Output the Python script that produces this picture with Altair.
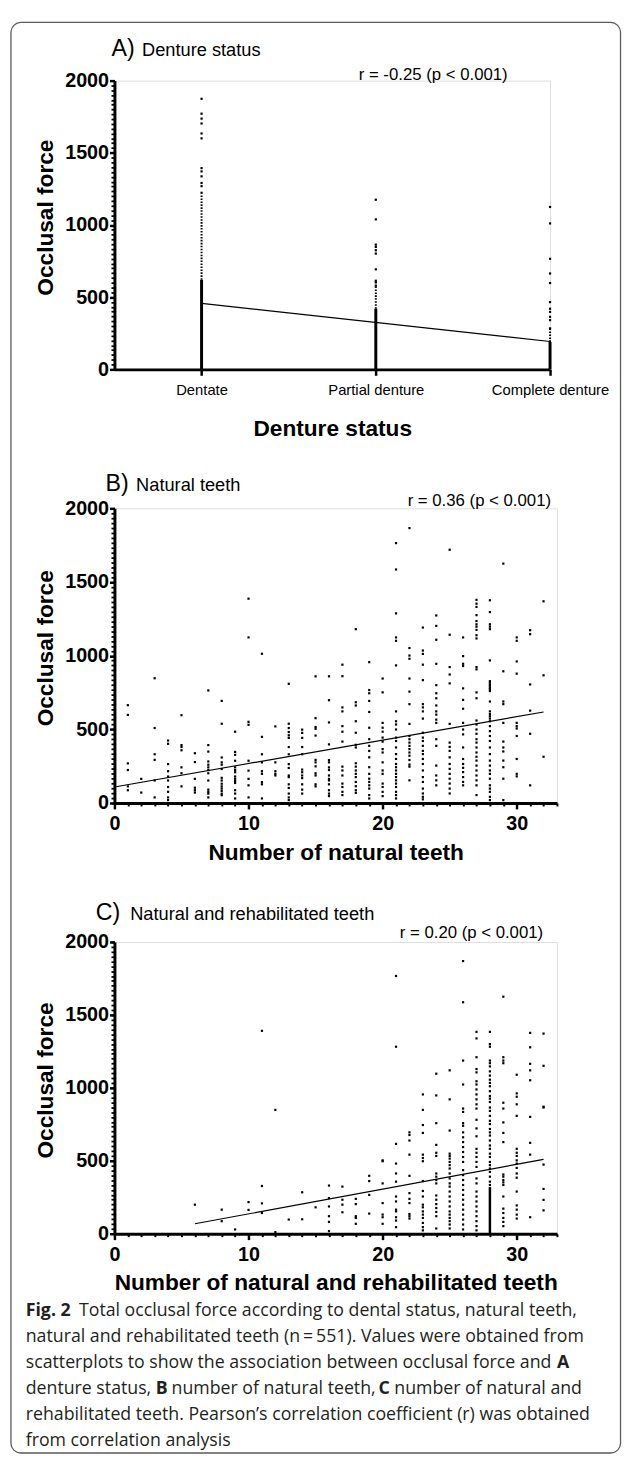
import altair as alt
import pandas as pd

FONT = "Liberation Sans"
CAP_FONT = "Open Sans"

# ---------------- Panel A: denture status ----------------
a_categories = ["Dentate", "Partial denture", "Complete denture"]
a_scatter_dentate = [1874, 1771, 1737, 1703, 1634, 1600, 1394, 1371, 1337, 1291, 1269, 1223]
a_scatter_partial = [1175, 1039, 864, 848, 825, 802, 693, 614, 602, 580]
a_scatter_complete = [1125, 1011, 766, 664, 598, 466, 420, 398, 364, 341, 284]
# stretches where the points overlap into a continuous bar
a_solid_lo = [0, 0, 0]
a_solid_hi = [620, 420, 190]
a_dotted_lo = [620, 420, 190]
a_dotted_hi = [1215, 580, 290]
a_fit_x = [0, 2]
a_fit_y = [457, 193]
a_r_text = "r = -0.25 (p < 0.001)"

# ---------------- Panel B: natural teeth ----------------
b_teeth = [1, 2, 3, 4, 5, 6, 7, 8, 9, 10, 11, 12, 13, 14, 15, 16,
           17, 18, 19, 20, 21, 22, 23, 24, 25, 26, 27, 28, 29, 30, 31, 32]
b_force = [
    [664, 598, 269, 224, 113, 87],
    [164, 71],
    [847, 509, 331, 293, 153, 38],
    [424, 402, 264, 216, 180, 153, 109, 76, 38, 20],
    [596, 393, 380, 358, 242, 202, 113],
    [338, 278, 164, 104, 87, 71],
    [764, 393, 349, 282, 260, 242, 224, 202, 153, 91, 76, 64, 38],
    [693, 538, 309, 276, 260, 231, 171, 153, 131, 113, 98, 82, 64, 53],
    [484, 347, 327, 287, 242, 224, 209, 180, 164, 149, 136, 87, 64, 31],
    [1387, 1124, 551, 531, 287, 220, 164, 120, 38],
    [1013, 449, 331, 276, 216, 198, 142, 127, 31],
    [520, 276, 216, 198, 187],
    [809, 538, 509, 482, 460, 442, 380, 331, 264, 238, 187, 176, 127, 102, 64, 38, 20],
    [498, 476, 442, 380, 331, 227, 209, 187, 169, 127, 91, 64],
    [860, 576, 516, 504, 458, 293, 276, 249, 202, 187, 127, 113],
    [860, 698, 547, 398, 291, 276, 242, 224, 187, 164, 153, 127, 87, 64, 47],
    [939, 861, 649, 622, 522, 484, 417, 247, 221, 187, 132, 109, 76, 54],
    [1180, 684, 662, 555, 477, 395, 377, 270, 247, 221, 198, 176, 143, 114, 87, 69],
    [956, 767, 745, 693, 618, 511, 433, 388, 354, 310, 243, 198, 165, 143, 120, 98, 54, 31],
    [845, 751, 544, 511, 484, 444, 417, 366, 343, 276, 221, 198, 132, 109, 76, 47],
    [1764, 1585, 1287, 1124, 1101, 934, 622, 555, 533, 499, 444, 421, 377, 332, 299, 265,
     243, 221, 198, 176, 154, 132, 109, 76, 54, 31],
    [1866, 1052, 1001, 979, 845, 756, 671, 537, 455, 433, 410, 388, 366, 343, 321, 292, 261, 247, 154],
    [1191, 1035, 1012, 939, 834, 671, 649, 622, 573, 477, 444, 421, 388, 354, 332, 299, 265,
     221, 176, 143, 98, 65, 42, 25],
    [1273, 1202, 1108, 945, 800, 745, 711, 662, 622, 600, 566, 544, 433, 388, 254, 187, 154, 120],
    [1719, 1142, 923, 872, 812, 537, 410, 381, 354, 310, 265, 232, 198, 165, 132, 98, 65],
    [1124, 997, 945, 930, 778, 700, 640, 544, 499, 466, 377, 299, 265, 239, 210, 176, 143, 120],
    [1379, 1353, 1331, 1275, 1235, 1213, 1197, 1175, 1139, 1117, 923, 907, 751, 711, 560, 533,
     499, 470, 433, 410, 377, 343, 314, 288, 254, 221, 187, 154, 120, 54],
    [1376, 1296, 1213, 1197, 1180, 968, 827, 818, 805, 796, 783, 774, 760, 689, 622, 604, 589,
     573, 555, 522, 488, 455, 421, 377, 332, 288, 254, 221, 198, 165, 120, 98, 76, 42, 20],
    [1625, 894, 689, 671, 544, 417, 377, 350, 288, 243, 165, 20],
    [1124, 1101, 961, 878, 544, 522, 506, 455, 299, 198, 181],
    [1173, 1146, 805, 627, 470, 120],
    [1369, 867, 314],
]
b_fit_x = [0, 32]
b_fit_y = [109, 618]
b_r_text = "r = 0.36 (p < 0.001)"

# ---------------- Panel C: natural and rehabilitated teeth ----------------
c_teeth = [6, 8, 9, 10, 11, 12, 13, 14, 15, 16, 17, 18, 19, 20, 21, 22, 23, 24, 25, 26,
           27, 28, 29, 30, 31, 32]
c_force = [
    [199],
    [165, 86],
    [29],
    [217, 163],
    [1391, 327, 208, 142],
    [849, 11],
    [97],
    [284, 99],
    [181],
    [330, 244, 187, 120, 81, 18],
    [323, 233, 199, 147],
    [239, 203, 120, 108, 68],
    [397, 361, 266, 138],
    [503, 497, 345, 210, 131, 113, 68],
    [1767, 1282, 616, 481, 413, 357, 255, 221, 165, 153, 113, 90, 45],
    [695, 677, 639, 542, 397, 278, 239, 210, 135, 120, 104],
    [955, 849, 745, 691, 542, 519, 497, 361, 293, 255, 199, 181, 153, 131, 108, 74, 45, 23],
    [1097, 948, 758, 609, 555, 533, 413, 391, 368, 345, 262, 233, 203, 176, 149, 120, 36],
    [1120, 921, 707, 549, 533, 515, 492, 470, 447, 413, 379, 345, 323, 289, 255, 221, 187,
     153, 131, 108, 86, 63, 36],
    [1869, 1587, 1187, 1023, 858, 835, 758, 740, 695, 661, 628, 594, 560, 526, 492, 436, 402,
     368, 334, 300, 266, 233, 199, 165, 131, 97, 63, 29],
    [1384, 1339, 1210, 1129, 1106, 1045, 1023, 989, 955, 921, 887, 858, 781, 722, 668, 582,
     555, 526, 492, 458, 379, 345, 289, 255, 221, 187, 153, 120, 86, 52, 23],
    [1384, 1300, 1282, 1187, 1169, 1147, 1113, 1084, 1056, 1034, 1011, 977, 944, 926, 903, 865,
     842, 808, 774, 752, 718, 695, 673, 639, 605, 582, 549, 526, 492, 470, 447, 424, 391, 357, 334],
    [1625, 1210, 1187, 1169, 898, 858, 763, 691, 628, 406, 391, 368, 352, 334, 255, 172, 142,
     108, 81, 52],
    [1090, 962, 939, 887, 808, 582, 555, 533, 503, 481, 451, 413, 384, 289, 194, 165, 131, 104],
    [1377, 1278, 1165, 1120, 1052, 801, 623, 542, 113],
    [1372, 1151, 871, 865, 474, 307, 232, 160],
]
# column of 28 teeth: points merge into a solid bar near the bottom
c_dense_teeth = [28]
c_dense_lo = [0]
c_dense_hi = [320]
c_fit_x = [6, 32]
c_fit_y = [68, 510]
c_r_text = "r = 0.20 (p < 0.001)"

# ---------------- caption ----------------
caption_lines = [
    [("Fig. 2", True), ("Total occlusal force according to dental status, natural teeth,", False)],
    [("natural and rehabilitated teeth (n\u2009=\u2009551). Values were obtained from", False)],
    [("scatterplots to show the association between occlusal force and", False), ("A", True)],
    [("denture status,", False), ("B", True), ("number of natural teeth,", False), ("C", True),
     ("number of natural and", False)],
    [("rehabilitated teeth. Pearson\u2019s correlation coefficient (r) was obtained", False)],
    [("from correlation analysis", False)],
]
# left edge of each caption piece (px, relative to panel C plot origin)
caption_x = [[-90, -36], [-90], [-90, 449], [-90, 42, 58, 268, 284], [-90], [-90]]
caption_y = [374, 400.5, 427, 453.5, 480, 506.5]
CAP_SIZE = 18

# ---------------- helpers ----------------
Y_SCALE = alt.Scale(domain=[0, 2000], nice=False, zero=False)
MINOR_Y = [i * 100 / 3 for i in range(61)]
ONE = alt.Data(values=[{"k": 1}])


def y_main_axis(h):
    return alt.Axis(values=[0, 500, 1000, 1500, 2000], format="d", orient="left",
                    labelFlush=False, labelPadding=1, labelFont=FONT, labelFontSize=20,
                    labelFontWeight="bold", labelColor="black", tickSize=5, tickWidth=2.5,
                    tickColor="black", domainColor="black", domainWidth=3, grid=False,
                    title="Occlusal force", titleFont=FONT, titleFontSize=23,
                    titleFontWeight="bold", titleColor="black", titleX=-58, titleY=h / 2 - 8,
                    titleAngle=270, titleAlign="center", titleBaseline="bottom")


def y_minor_axis():
    return alt.Axis(values=MINOR_Y, orient="left", labels=False, domain=False, grid=False,
                    tickSize=3.5, tickWidth=1.8, tickColor="black", title="")


def x_num_axis(title, title_y):
    return alt.Axis(values=[0, 10, 20, 30], orient="bottom", format="d", labelFlush=False,
                    labelPadding=5, labelFont=FONT, labelFontSize=20, labelFontWeight="bold",
                    labelColor="black", tickSize=6, tickWidth=2.5, tickColor="black",
                    domainColor="black", domainWidth=3, grid=False, title=title,
                    titleFont=FONT, titleFontSize=23, titleFontWeight="bold",
                    titleColor="black", titleY=title_y, titleBaseline="middle")


def x_minor_axis():
    return alt.Axis(values=list(range(34)), orient="bottom", labels=False, domain=False,
                    grid=False, tickSize=3, tickWidth=2, tickColor="black", title="")


def text_layer(txt, x, y, size, align="left", weight="normal", font=FONT, color="black",
               baseline="alphabetic"):
    return alt.Chart(ONE).mark_text(text=txt, align=align, baseline=baseline, font=font,
                                    fontSize=size, fontWeight=weight, color=color).encode(
        x=alt.value(x), y=alt.value(y))


def title_layers(letter, label, x_letter, x_label, y):
    return [text_layer(letter, x_letter, y, 23.5), text_layer(label, x_label, y, 18.5)]


# ---------------- Panel A chart ----------------
A_W, A_H = 442, 293
a_x_scale = alt.Scale(domain=[-0.5, 2], nice=False, zero=False)
a_label_expr = "datum.value == 0 ? '%s' : datum.value == 1 ? '%s' : '%s'" % tuple(a_categories)
a_x_axis = alt.Axis(values=[0, 1, 2], labelExpr=a_label_expr, orient="bottom", labelFlush=False,
                    labelPadding=7, labelFont=FONT, labelFontSize=15, labelColor="black",
                    tickSize=6, tickWidth=2.5, tickColor="black", domainColor="black",
                    domainWidth=3, grid=False, title="Denture status", titleFont=FONT,
                    titleFontSize=23, titleFontWeight="bold", titleColor="black", titleY=60,
                    titleBaseline="middle")

a_points = pd.DataFrame({
    "x": [0] * len(a_scatter_dentate) + [1] * len(a_scatter_partial) + [2] * len(a_scatter_complete),
    "y": a_scatter_dentate + a_scatter_partial + a_scatter_complete,
})
a_seg_solid = pd.DataFrame({"x": [0, 1, 2], "lo": a_solid_lo, "hi": a_solid_hi})
a_seg_dot = pd.DataFrame({"x": [0, 1, 2], "lo": a_dotted_lo, "hi": a_dotted_hi})
a_fit = pd.DataFrame({"x": a_fit_x, "y": a_fit_y})

a_pts = alt.Chart(a_points).mark_square(size=5, color="black", opacity=1).encode(
    x=alt.X("x:Q", scale=a_x_scale, axis=a_x_axis),
    y=alt.Y("y:Q", scale=Y_SCALE, axis=y_main_axis(A_H)))
a_line = alt.Chart(a_fit).mark_line(color="black", strokeWidth=1.2).encode(
    x=alt.X("x:Q", scale=a_x_scale, axis=None),
    y=alt.Y("y:Q", scale=Y_SCALE, axis=y_minor_axis()))
a_solid = alt.Chart(a_seg_solid).mark_rule(color="black", strokeWidth=3).encode(
    x=alt.X("x:Q", scale=a_x_scale, axis=None),
    y=alt.Y("lo:Q", scale=Y_SCALE, axis=None), y2="hi:Q")
a_dot = alt.Chart(a_seg_dot).mark_rule(color="black", strokeWidth=2, strokeDash=[1.6, 1.4]).encode(
    x=alt.X("x:Q", scale=a_x_scale, axis=None),
    y=alt.Y("lo:Q", scale=Y_SCALE, axis=None), y2="hi:Q")
frame = alt.Chart(ONE).mark_rect(fill="white", fillOpacity=0, stroke="#5a5a5a", strokeWidth=1.3,
                                 cornerRadius=10).encode(
    x=alt.value(-105), x2=alt.value(513.5), y=alt.value(-59), y2=alt.value(1392.5))

panel_a = alt.layer(
    frame, a_solid, a_dot, a_pts, a_line,
    *title_layers("A)", "Denture status", -3, 28, -25),
    text_layer(a_r_text, 399, -1, 17, align="right"),
).resolve_axis(y="independent", x="independent").properties(width=A_W, height=A_H)


# ---------------- Panels B and C ----------------
def scatter_panel(teeth, forces, fit_x, fit_y, h, xtitle, title_y, letter, label,
                  lx, tx, ty, r_text, rx, ry, extra=None):
    x_scale = alt.Scale(domain=[0, 33], nice=False, zero=False)
    xs, ys = [], []
    for t, col in zip(teeth, forces):
        xs += [t] * len(col)
        ys += col
    pts_df = pd.DataFrame({"x": xs, "y": ys})
    fit_df = pd.DataFrame({"x": fit_x, "y": fit_y})
    pts = alt.Chart(pts_df).mark_square(size=5, color="black", opacity=1).encode(
        x=alt.X("x:Q", scale=x_scale, axis=x_num_axis(xtitle, title_y)),
        y=alt.Y("y:Q", scale=Y_SCALE, axis=y_main_axis(h)))
    line = alt.Chart(fit_df).mark_line(color="black", strokeWidth=1.2).encode(
        x=alt.X("x:Q", scale=x_scale, axis=x_minor_axis()),
        y=alt.Y("y:Q", scale=Y_SCALE, axis=y_minor_axis()))
    layers = [pts, line]
    if extra is not None:
        seg = alt.Chart(extra).mark_rule(color="black", strokeWidth=2.5).encode(
            x=alt.X("x:Q", scale=x_scale, axis=None),
            y=alt.Y("lo:Q", scale=Y_SCALE, axis=None), y2="hi:Q")
        layers.insert(0, seg)
    layers += title_layers(letter, label, lx, tx, ty)
    layers.append(text_layer(r_text, rx, ry, 17, align="right"))
    return layers


B_W, B_H = 449, 299
b_layers = scatter_panel(b_teeth, b_force, b_fit_x, b_fit_y, B_H, "Number of natural teeth", 50,
                         "B)", "Natural teeth", -9, 22, -18, b_r_text, 443, -2)
panel_b = alt.layer(*b_layers).resolve_axis(y="independent", x="independent").properties(
    width=B_W, height=B_H)

C_W, C_H = 449, 296
c_seg = pd.DataFrame({"x": c_dense_teeth, "lo": c_dense_lo, "hi": c_dense_hi})
c_layers = scatter_panel(c_teeth, c_force, c_fit_x, c_fit_y, C_H,
                         "Number of natural and rehabilitated teeth", 50,
                         "C)", "Natural and rehabilitated teeth", -19, 16, -22,
                         c_r_text, 435, -4, extra=c_seg)
for line_pieces, xs_line, yv in zip(caption_lines, caption_x, caption_y):
    for (txt, bold), xv in zip(line_pieces, xs_line):
        c_layers.append(text_layer(txt, xv, yv, CAP_SIZE, weight="bold" if bold else "normal",
                                   font=CAP_FONT, color="#231f20", baseline="middle"))
panel_c = alt.layer(*c_layers).resolve_axis(y="independent", x="independent").properties(
    width=C_W, height=C_H)

chart = alt.vconcat(panel_a, panel_b, panel_c, spacing=141, bounds="flush").properties(
    padding={"left": 1, "top": 2, "right": 0, "bottom": 0}
).configure_view(stroke=None).configure(background="white")

chart.save("out.html", embed_options={"renderer": "svg", "actions": False})
